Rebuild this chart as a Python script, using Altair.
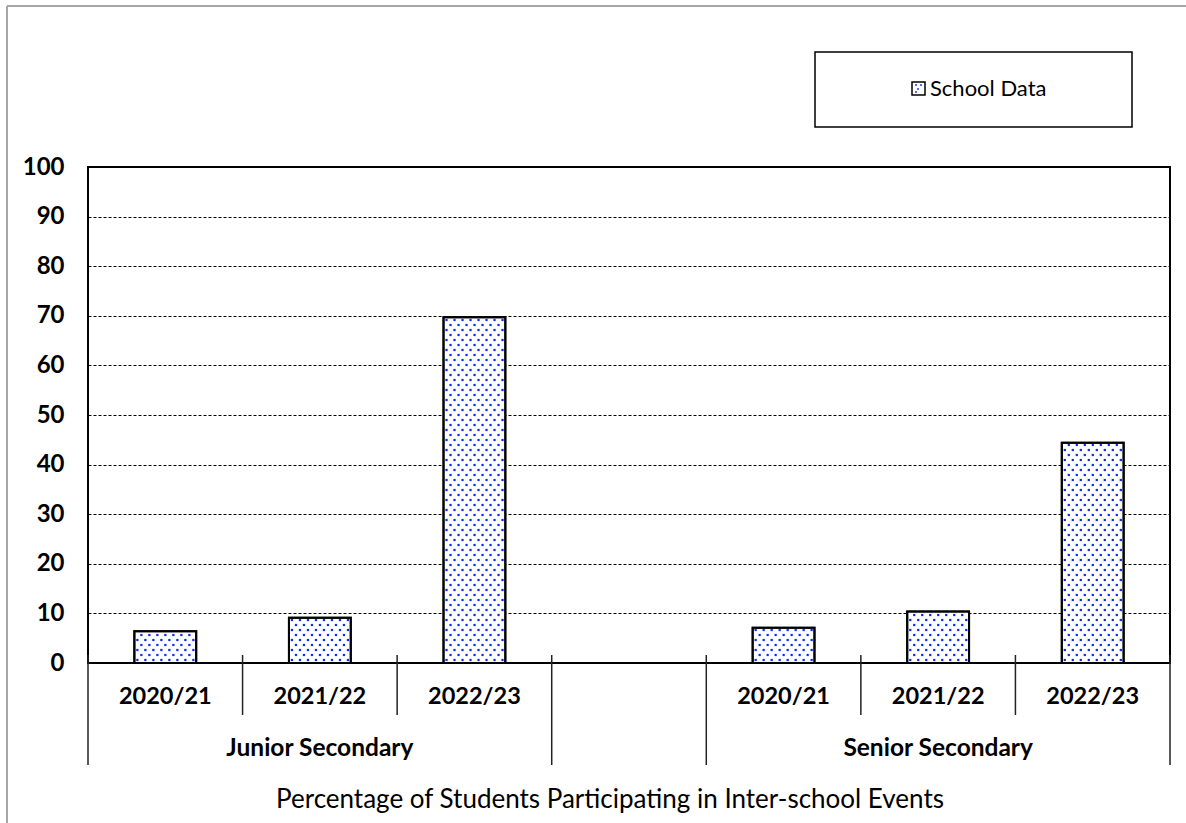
import altair as alt
import pandas as pd

# ---- chart values ----
years = ["2020/21", "2021/22", "2022/23", "2020/21", "2021/22", "2022/23"]
levels = ["Junior Secondary", "Junior Secondary", "Junior Secondary",
          "Senior Secondary", "Senior Secondary", "Senior Secondary"]
slots = [0, 1, 2, 4, 5, 6]          # category slot on the x axis (slot 3 left empty)
pct = [6.4, 9.1, 69.7, 7.1, 10.4, 44.4]

group_names = ["Junior Secondary", "Senior Secondary"]
group_centers = [1.5, 5.5]
boundaries = [0, 1, 2, 3, 4, 5, 6, 7]
long_boundaries = [0, 3, 4, 7]

title_text = "Percentage of Students Participating in Inter-school Events"
legend_label = "School Data"

# ---- layout ----
W, H = 1082, 496
PAD_L, PAD_T = 88, 167
N_SLOTS = 7
BAR_LO, BAR_HI = 0.3, 0.7
FONT = "Lato"
DOT_BLUE = "#0a2cf0"

bars = pd.DataFrame({"year": years, "level": levels, "slot": slots, "pct": pct})
bars["x0"] = bars["slot"] + BAR_LO
bars["x1"] = bars["slot"] + BAR_HI
bars["xc"] = bars["slot"] + 0.5

# dotted texture inside each bar (staggered lattice, in pixels converted to data units)
px_x = W / N_SLOTS
px_y = H / 100
dots = []
for s, v in zip(slots, pct):
    height_px = v * px_y
    width_px = (BAR_HI - BAR_LO) * px_x
    row = 0
    yy = 3.0
    while yy < height_px - 2:
        off = 3.0 if row % 2 == 0 else 7.0
        xx = off
        while xx < width_px - 2:
            dots.append({"dx": s + BAR_LO + xx / px_x, "dy": yy / px_y})
            xx += 8.0
        yy += 5.0
        row += 1
dots = pd.DataFrame(dots)

xscale = alt.Scale(domain=[0, N_SLOTS], nice=False, zero=False)
yscale = alt.Scale(domain=[0, 100], nice=False)

base = alt.Chart(bars)

bar_layer = base.mark_bar(fill="white", stroke="black", strokeWidth=2).encode(
    x=alt.X("x0:Q", scale=xscale, axis=None),
    x2="x1:Q",
    y=alt.Y("pct:Q", scale=yscale,
            axis=alt.Axis(values=list(range(0, 101, 10)), title=None, grid=True,
                          gridDash=[3, 2], gridColor="black", gridWidth=1,
                          domain=False, ticks=False, labelFont=FONT,
                          labelFontSize=24, labelFontWeight="bold",
                          labelColor="black", labelPadding=24)),
    y2=alt.datum(0),
)

dot_layer = alt.Chart(dots).mark_square(size=5, color=DOT_BLUE, opacity=1).encode(
    x=alt.X("dx:Q", scale=xscale, axis=None),
    y=alt.Y("dy:Q", scale=yscale),
)

bar_outline = base.mark_bar(fill=None, stroke="black", strokeWidth=2).encode(
    x=alt.X("x0:Q", scale=xscale, axis=None),
    x2="x1:Q",
    y=alt.Y("pct:Q", scale=yscale),
    y2=alt.datum(0),
)

year_labels = base.mark_text(font=FONT, fontSize=23.5, fontWeight="bold",
                             color="black", baseline="middle").encode(
    x=alt.X("xc:Q", scale=xscale),
    y=alt.value(697 - PAD_T),
    text="year:N",
)

# slot separators below the axis; group edges run further down
sep = pd.DataFrame({"b": boundaries,
                    "bottom": [765 - PAD_T if b in long_boundaries else 715 - PAD_T
                               for b in boundaries]})
sep_layer = alt.Chart(sep).transform_calculate(top=str(655 - PAD_T)).mark_rule(
    color="#222222", strokeWidth=1.5).encode(
    x=alt.X("b:Q", scale=xscale),
    y=alt.Y("top:Q", scale=None),
    y2="bottom:Q",
)

groups = pd.DataFrame({"name": group_names, "c": group_centers})
group_labels = alt.Chart(groups).mark_text(font=FONT, fontSize=24.5, fontWeight="bold",
                                           color="black", baseline="middle").encode(
    x=alt.X("c:Q", scale=xscale),
    y=alt.value(749 - PAD_T),
    text="name:N",
)

one = alt.Chart(pd.DataFrame({"k": [0]}))

title_layer = one.mark_text(font=FONT, fontSize=26, color="black",
                            baseline="middle", align="center",
                            text=title_text).encode(
    x=alt.value(610 - PAD_L), y=alt.value(800 - PAD_T))

legend_box = one.mark_rect(fill="white", stroke="black", strokeWidth=1.5).encode(
    x=alt.value(815 - PAD_L), x2=alt.value(1132 - PAD_L),
    y=alt.value(52 - PAD_T), y2=alt.value(127 - PAD_T))

legend_swatch = one.mark_rect(fill="white", stroke="black", strokeWidth=1.5).encode(
    x=alt.value(912 - PAD_L), x2=alt.value(925 - PAD_L),
    y=alt.value(82 - PAD_T), y2=alt.value(95 - PAD_T))

swatch_dots = pd.DataFrame({"px": [916 - PAD_L, 921 - PAD_L, 918 - PAD_L, 916 - PAD_L],
                            "py": [85 - PAD_T, 85 - PAD_T, 89 - PAD_T, 92 - PAD_T]})
swatch_dot_layer = alt.Chart(swatch_dots).mark_square(size=4, color=DOT_BLUE).encode(
    x=alt.X("px:Q", scale=None), y=alt.Y("py:Q", scale=None))

legend_text = one.mark_text(font=FONT, fontSize=22, color="black", align="left",
                            baseline="middle", text=legend_label).encode(
    x=alt.value(930 - PAD_L), y=alt.value(89 - PAD_T))

frame_left = one.mark_rule(color="#a6a6a6", strokeWidth=2).encode(
    x=alt.value(7 - PAD_L), y=alt.value(6 - PAD_T), y2=alt.value(823 - PAD_T))
frame_top = one.mark_rule(color="#a6a6a6", strokeWidth=2).encode(
    x=alt.value(7 - PAD_L), x2=alt.value(1186 - PAD_L), y=alt.value(6 - PAD_T))

chart = alt.layer(
    bar_layer, dot_layer, bar_outline, sep_layer, year_labels, group_labels,
    title_layer, legend_box, legend_swatch, swatch_dot_layer, legend_text,
    frame_left, frame_top,
).properties(
    width=W, height=H,
    autosize=alt.AutoSizeParams(type="none"),
    padding={"left": PAD_L, "top": PAD_T, "right": 1186 - PAD_L - W, "bottom": 823 - PAD_T - H},
    background="white",
).configure_view(stroke="black", strokeWidth=2)

chart.save("out.html", embed_options={"renderer": "svg", "actions": False})
